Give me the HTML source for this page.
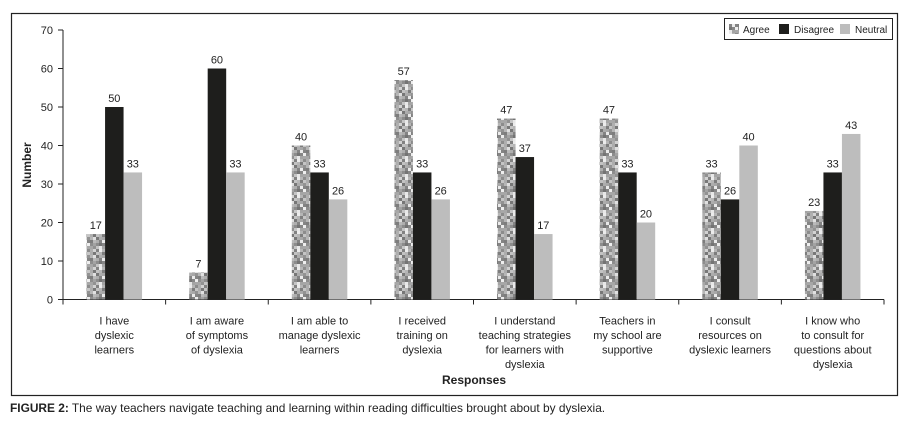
<!DOCTYPE html>
<html><head><meta charset="utf-8"><style>
body{margin:0;background:#fff;font-family:"Liberation Sans",sans-serif;}
svg text{font-family:"Liberation Sans",sans-serif;}
</style></head><body>
<svg id="c" width="911" height="423" xmlns="http://www.w3.org/2000/svg">
<defs id="defs"></defs>
<rect x="11.5" y="13.5" width="886" height="382" fill="none" stroke="#222" stroke-width="1.2"/>
<text x="10" y="412" font-size="11.9" fill="#222"><tspan font-weight="bold">FIGURE 2:</tspan> The way teachers navigate teaching and learning within reading difficulties brought about by dyslexia.</text>
<text transform="translate(31,165) rotate(-90)" text-anchor="middle" font-size="12" font-weight="bold" fill="#222">Number</text>
<text x="474" y="384" text-anchor="middle" font-size="12" font-weight="bold" fill="#222">Responses</text>
<g id="plot"></g>
<g>
<rect x="724.5" y="18.5" width="168" height="21" fill="#fff" stroke="#222"/>
<rect x="729" y="24" width="10" height="10" fill="url(#agreePat)"/>
<text x="743" y="33" font-size="10" fill="#222">Agree</text>
<rect x="779" y="24" width="10" height="10" fill="#1e1e1c"/>
<text x="794" y="33" font-size="10" fill="#222">Disagree</text>
<rect x="840" y="24" width="10" height="10" fill="#bdbdbd"/>
<text x="855" y="33" font-size="10" fill="#222">Neutral</text>
</g>
</svg>
<script>
const categories=[["I have","dyslexic","learners"],["I am aware","of symptoms","of dyslexia"],["I am able to","manage dyslexic","learners"],["I received","training on","dyslexia"],["I understand","teaching strategies","for learners with","dyslexia"],["Teachers in","my school are","supportive"],["I consult","resources on","dyslexic learners"],["I know who","to consult for","questions about","dyslexia"]];
const agree=[17,7,40,57,47,47,33,23];
const disagree=[50,60,33,33,37,33,26,33];
const neutral=[33,33,26,26,17,20,40,43];
const yTicks=[0,10,20,30,40,50,60,70];
const NS="http://www.w3.org/2000/svg";
const x0=63,x1=884,yb=299.5,yt=30;
const y=v=>yb-(v/70)*(yb-yt);
const cw=(x1-x0)/categories.length;
const svg=document.getElementById('c'),plot=document.getElementById('plot');
function mk(t,a,p){const e=document.createElementNS(NS,t);for(const k in a)e.setAttribute(k,a[k]);(p||plot).appendChild(e);return e;}
const pat=mk('pattern',{id:'agreePat',width:18,height:18,patternUnits:'userSpaceOnUse'},document.getElementById('defs'));
let s=7;for(let i=0;i<6;i++)for(let j=0;j<6;j++){s=(s*9301+49297)%233280;const g=110+Math.floor(s/233280*130);mk('rect',{x:i*3,y:j*3,width:3,height:3,fill:`rgb(${g},${g},${g})`},pat);}
const ax=mk('line',{x1:x0,y1:yt,x2:x0,y2:yb,stroke:'#222'});

const bx=mk('line',{x1:x0-4,y1:yb,x2:x1,y2:yb,stroke:'#222'});

yTicks.forEach(t=>{mk('line',{x1:x0-5,y1:y(t),x2:x0,y2:y(t),stroke:'#222'});
const tx=mk('text',{x:x0-10,y:y(t)+4,'text-anchor':'end','font-size':11,fill:'#222'});tx.textContent=t;
});
for(let i=0;i<=categories.length;i++)mk('line',{x1:x0+i*cw,y1:yb,x2:x0+i*cw,y2:yb+5,stroke:'#222'});
const series=[[agree,'url(#agreePat)','agree'],[disagree,'#1e1e1c','disagree'],[neutral,'#bdbdbd','neutral']];
const bw=18.5;
categories.forEach((c,i)=>{const cx=x0+cw*(i+0.5);
series.forEach(([d,f,n],k)=>{const bxp=cx-bw*1.5+k*bw;
const r=mk('rect',{x:bxp,y:y(d[i]),width:bw,height:yb-y(d[i]),fill:f});

const t=mk('text',{x:bxp+bw/2,y:y(d[i])-5,'text-anchor':'middle','font-size':11,fill:'#222'});t.textContent=d[i];
});
c.forEach((ln,j)=>{const t=mk('text',{x:cx,y:yb+25+j*14.5,'text-anchor':'middle','font-size':11,fill:'#222'});t.textContent=ln;
});});
</script>
</body></html>
